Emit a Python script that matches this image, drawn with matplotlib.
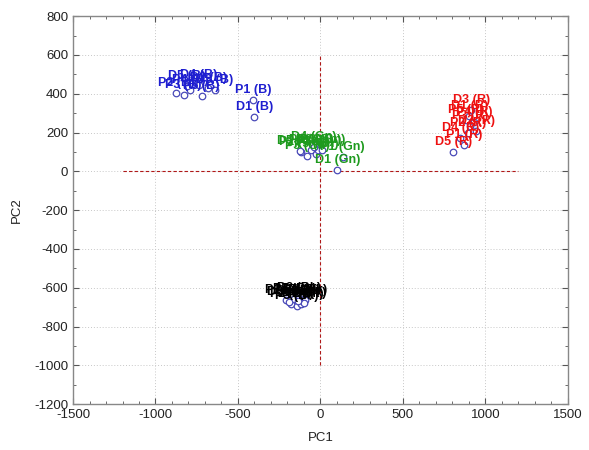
import matplotlib
matplotlib.use("Agg")
import matplotlib.pyplot as plt
from matplotlib.ticker import MultipleLocator

plt.rcParams['font.family'] = ['Liberation Sans', 'DejaVu Sans']
plt.rcParams['axes.unicode_minus'] = False

# Blue group (B)
b_names = ["P1 (B)", "D1 (B)", "P2 (B)", "P3 (B)", "P4 (B)", "P5 (B)", "D2 (B)", "D3 (B)", "D4 (B)", "D5 (B)"]
b_x = [-406, -400, -873, -830, -788, -721, -679, -642, -739, -812]
b_y = [366, 278, 402, 392, 418, 387, 428, 418, 443, 438]

# Green group (Gn)
g_names = ["P1 (Gn)", "D1 (Gn)", "P2 (Gn)", "P3 (Gn)", "P4 (Gn)", "P5 (Gn)", "D2 (Gn)", "D3 (Gn)", "D4 (Gn)", "D5 (Gn)"]
g_x = [135, 103, -115, -79, -55, -24, -12, 12, -40, -125]
g_y = [75, 5, 98, 77, 108, 88, 108, 108, 125, 105]

# Red group (R)
r_names = ["D5 (R)", "D4 (R)", "P1 (R)", "P2 (R)", "P3 (R)", "P4 (R)", "P5 (R)", "D1 (R)", "D2 (R)", "D3 (R)"]
r_x = [806, 848, 873, 897, 909, 933, 885, 903, 945, 915]
r_y = [98, 170, 134, 196, 232, 253, 263, 284, 206, 314]

# Black group (Bk)
k_names = ["P1 (Bk)", "P2 (Bk)", "P3 (Bk)", "P4 (Bk)", "P5 (Bk)", "D1 (Bk)", "D2 (Bk)", "D3 (Bk)", "D4 (Bk)", "D5 (Bk)"]
k_x = [-206, -176, -145, -115, -158, -91, -127, -190, -100, -135]
k_y = [-665, -686, -696, -686, -660, -665, -655, -675, -680, -670]

groups = [
    (b_names, b_x, b_y, "#1f1fd0"),
    (g_names, g_x, g_y, "#1e9a1e"),
    (r_names, r_x, r_y, "#ee1111"),
    (k_names, k_x, k_y, "#000000"),
]

fig = plt.figure(figsize=(5.89, 4.5), dpi=100)
ax = fig.add_axes([0.124, 0.102, 0.84, 0.862])

ax.set_xlim(-1500, 1500)
ax.set_ylim(-1200, 800)
ax.xaxis.set_major_locator(MultipleLocator(500))
ax.xaxis.set_minor_locator(MultipleLocator(100))
ax.yaxis.set_major_locator(MultipleLocator(200))
ax.yaxis.set_minor_locator(MultipleLocator(100))
ax.grid(True, which='major', linestyle=(0, (1, 2)), color='#c8c8c8', linewidth=0.7)
ax.set_axisbelow(True)
ax.tick_params(which='both', direction='in', top=True, right=True, colors='#555555',
               labelcolor='#222222', labelsize=9.5)
ax.tick_params(which='major', length=4)
ax.tick_params(which='minor', length=2)
for s in ax.spines.values():
    s.set_color('#888888')
    s.set_linewidth(1.0)

ax.plot([0, 0], [-1000, 600], linestyle=(0, (3, 2)), color='#b01818', linewidth=0.8, zorder=1)
ax.plot([-1200, 1200], [0, 0], linestyle=(0, (3, 2)), color='#b01818', linewidth=0.8, zorder=1)

for names, xs, ys, col in groups:
    ax.scatter(xs, ys, s=22, facecolors='white', edgecolors='#4a4ab8', linewidths=0.9, zorder=3)
    for n, x, y in zip(names, xs, ys):
        ax.annotate(n, (x, y), xytext=(0, 3), textcoords='offset points', ha='center',
                    va='bottom', color=col, fontsize=9, fontweight='bold', zorder=4)

ax.set_xlabel("PC1", fontsize=9.5, color='#222222', labelpad=8)
ax.set_ylabel("PC2", fontsize=9.5, color='#222222', labelpad=8)

fig.savefig("out.png", dpi=100)
